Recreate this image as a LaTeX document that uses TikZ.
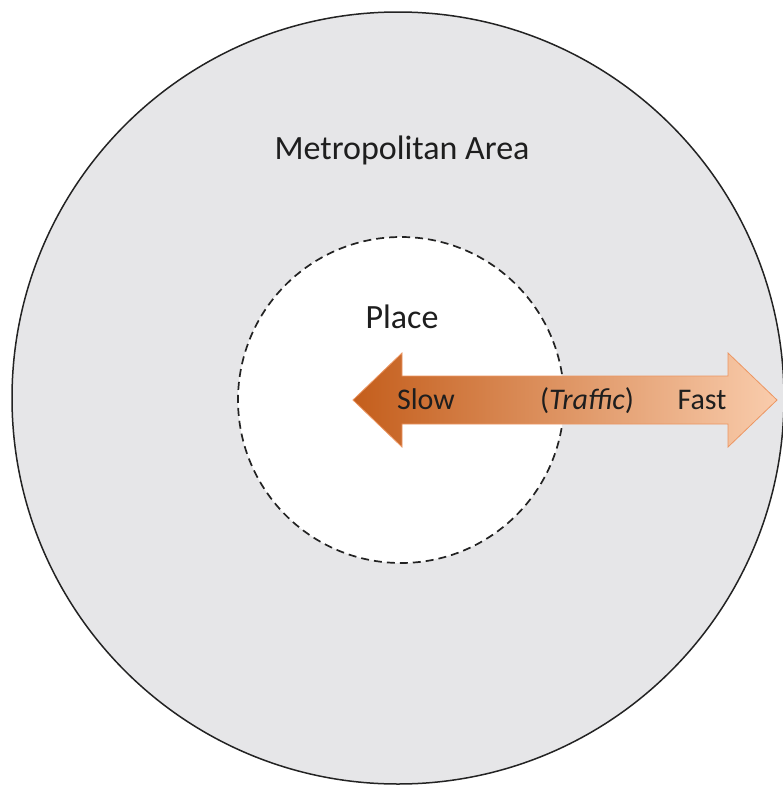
\documentclass[tikz,border=0pt]{standalone}
\usepackage{fontspec}
\setmainfont{Carlito}

\definecolor{areagray}{RGB}{230,230,232}
\definecolor{linegray}{RGB}{35,35,35}
\definecolor{textgray}{RGB}{30,30,30}
\definecolor{slowcol}{RGB}{196,94,28}
\definecolor{fastcol}{RGB}{249,204,172}
\definecolor{arrowedge}{RGB}{236,150,98}

\tikzset{
  biglabel/.style={anchor=base, text=textgray, font=\fontsize{34}{40}\selectfont},
  arrowlabel/.style={anchor=base, text=textgray, font=\fontsize{30}{36}\selectfont}
}

\begin{document}
\begin{tikzpicture}[x=1pt,y=-1pt]
            \useasboundingbox (0,0) rectangle (782,787);

            % Metropolitan area
            \node[circle, draw=linegray, line width=1.5pt, fill=areagray, minimum size=772pt, inner sep=0pt] (metro) at (398,398) {};
            \node[biglabel] (metrolabel) at (402,159) {Metropolitan Area};

            % Place
            \node[circle, draw=linegray, line width=1.7pt, dash pattern=on 8pt off 5pt, fill=white, minimum size=326pt, inner sep=0pt] (place) at (401,400) {};
            \node[biglabel] (placelabel) at (402,328) {Place};

            % Traffic arrow
            \shadedraw[left color=slowcol, right color=fastcol, draw=arrowedge, line width=0.8pt, line join=miter]
              (353,400) -- (402,353) -- (402,376) -- (728,376) -- (728,353) -- (777,400)
              -- (728,447) -- (728,424) -- (402,424) -- (402,447) -- cycle;
            \node[arrowlabel] (slow) at (426,409) {Slow};
            \node[arrowlabel] (traffic) at (587,409) {(\textit{Traffic})};
            \node[arrowlabel] (fast) at (702,409) {Fast};
\end{tikzpicture}
\end{document}
